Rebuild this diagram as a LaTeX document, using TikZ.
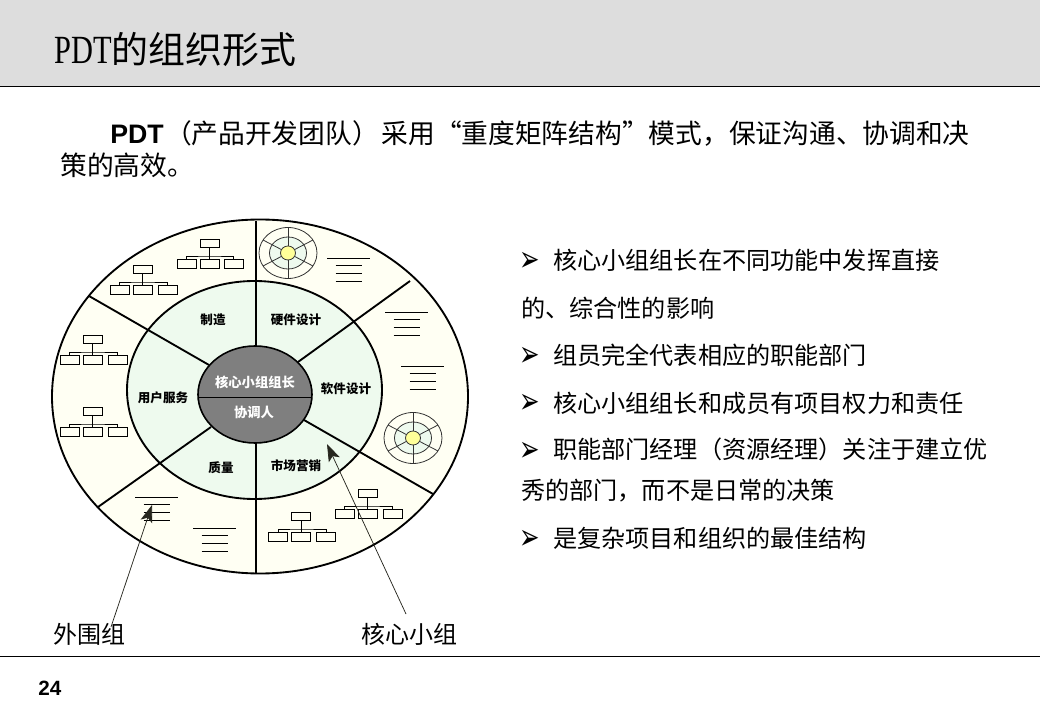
\documentclass[tikz,border=0pt]{standalone}
\usepackage{fontspec}
\setmainfont{Noto Sans CJK SC}
\newfontfamily\latinbold[BoldFont=Liberation Sans Bold]{Liberation Sans}
\newfontfamily\titlelatin[FakeStretch=0.76]{Liberation Serif}
\newfontfamily\dingfont[FakeStretch=0.68]{DejaVu Sans}
\usetikzlibrary{arrows.meta}
\definecolor{bandgray}{HTML}{DDDDDD}
\definecolor{outerfill}{HTML}{FFFFF3}
\definecolor{innerfill}{HTML}{EEFAEE}
\definecolor{corefill}{HTML}{7F7F7F}
\definecolor{yolk}{HTML}{FFFF99}
\definecolor{inkdark}{HTML}{26261E}
\newcommand{\chartpic}[4]{% name, centre x, top y, child-right offset
  \node[orgbox] (#1t) at (#2,#3+4.5) {};
  \node[orgbox] (#1a) at (#2-23,#3+25) {};
  \node[orgbox] (#1b) at (#2,#3+25) {};
  \node[orgbox] (#1c) at (#2+#4,#3+25) {};
  \coordinate (#1m) at (#2,#3+17);
  \draw[orgline] (#1t.south) -- (#1b.north);
  \draw[orgline] (#1a.north) |- (#1m) -| (#1c.north);
}
\newcommand{\rulepic}[3]{% left x of wide rule, y, name
  \coordinate (#3w0) at (#1,#2); \coordinate (#3w1) at (#1+43,#2);
  \draw[rulestroke] (#3w0) -- (#3w1);
  \foreach \k in {7,15,23}{
    \draw[rulestroke] (#1+8.5,#2+\k) -- (#1+34.5,#2+\k);
  }
}
\newcommand{\targetpic}[3]{% name, cx, cy
  \coordinate (#1) at (#2,#3);
  \draw[targetline,fill=outerfill] (#1) ellipse [x radius=29,y radius=25.5];
  \draw[targetline,fill=innerfill] (#1) ellipse [x radius=18.5,y radius=16];
  \draw[targetline] (#2,#3-25.5) -- (#2,#3+25.5);
  \draw[targetline] (#2-25,#3-13) -- (#2+25,#3+13);
  \draw[targetline] (#2-25,#3+13) -- (#2+25,#3-13);
  \draw[targetline,fill=yolk] (#1) ellipse [x radius=7.5,y radius=7];
}
\tikzset{
  orgbox/.style={draw=black,fill=outerfill,line width=0.7pt,minimum width=14.2pt,minimum height=6.6pt,inner sep=0pt},
  orgline/.style={draw=black,line width=0.7pt},
  rulestroke/.style={draw=black,line width=0.7pt},
  targetline/.style={draw=black!80,line width=0.6pt},
  spoke/.style={draw=black,line width=1.4pt},
  ring/.style={draw=black,line width=1.4pt},
  seglabel/.style={font=\fontsize{9.4pt}{10pt}\selectfont\bfseries,inner sep=0pt,text=black},
  corelabel/.style={font=\fontsize{10pt}{11pt}\selectfont\bfseries,inner sep=0pt,text=white},
  lead/.style={draw=inkdark,line width=0.55pt,-{Stealth[length=13pt,width=9pt,inset=3pt]}},
  bodytext/.style={anchor=base west,inner sep=0pt,font=\fontsize{20.05pt}{24pt}\selectfont},
  sidetext/.style={anchor=base west,inner sep=0pt,font=\fontsize{18.1pt}{22pt}\selectfont},
  tag/.style={anchor=base west,inner sep=0pt,font=\fontsize{18pt}{22pt}\selectfont},
  bulletmark/.style={anchor=base west,inner sep=0pt,font=\dingfont\fontsize{27pt}{30pt}\selectfont},
}
\begin{document}
\begin{tikzpicture}[x=0.75pt,y=-0.75pt]
\useasboundingbox (0,0) rectangle (1040,720);
\fill[white] (0,0) rectangle (1040,720);
\fill[bandgray] (0,0) rectangle (1040,86);
\coordinate (hl) at (0,86.5); \coordinate (hr) at (1040,86.5);
\draw[black,line width=0.75pt] (hl) -- (hr);
\coordinate (fl) at (0,656); \coordinate (fr) at (1040,656);
\draw[black,line width=0.75pt] (fl) -- (fr);
\node[anchor=base west,inner sep=0pt,font=\fontsize{27.7pt}{30pt}\selectfont] (title) at (54,64) {{\titlelatin\fontsize{30pt}{30pt}\selectfont PDT}的组织形式};
\node[bodytext] (body1) at (110,144) {{\latinbold\bfseries PDT}\hspace{1pt}（产品开发团队）\hspace{2pt}采用“重度矩阵结构”模式，保证沟通、协调和决};
\node[bodytext] (body2) at (60,176) {策的高效。};
% wheel
\draw[ring,fill=outerfill] (260,396.5) ellipse [x radius=208,y radius=177];
\draw[ring,fill=innerfill] (254.5,390) ellipse [x radius=127.5,y radius=109];
\coordinate (s1a) at (256,346); \coordinate (s1b) at (256,221);
\coordinate (s2a) at (256,443); \coordinate (s2b) at (256,573);
\coordinate (s3a) at (298,362); \coordinate (s3b) at (410,281);
\coordinate (s4a) at (209,365); \coordinate (s4b) at (89,296);
\coordinate (s5a) at (211,427); \coordinate (s5b) at (98,507);
\coordinate (s6a) at (304,420); \coordinate (s6b) at (433,494);
\foreach \n in {1,...,6}{\draw[spoke] (s\n a) -- (s\n b);}
\draw[draw=black,line width=1.2pt,fill=corefill] (255,394.5) ellipse [x radius=57,y radius=48.5];
\coordinate (cl) at (198,397); \coordinate (cr) at (312,397);
\draw[black,line width=0.7pt] (cl) -- (cr);
\node[corelabel] (c1) at (255,382) {核心小组组长};
\node[corelabel] (c2) at (254,412) {协调人};
\node[seglabel] (l1) at (213,320) {制造};
\node[seglabel] (l2) at (296,320) {硬件设计};
\node[seglabel] (l3) at (346,389) {软件设计};
\node[seglabel] (l4) at (163,398) {用户服务};
\node[seglabel] (l5) at (221,468) {质量};
\node[seglabel] (l6) at (296,466) {市场营销};
\chartpic{oa}{209.5}{239}{24}
\chartpic{ob}{142.5}{265}{25}
\chartpic{oc}{92.5}{335}{25}
\chartpic{od}{92.5}{407}{25}
\chartpic{oe}{367.5}{489}{25}
\chartpic{of}{301}{512}{25}
\rulepic{327}{258}{ra}
\rulepic{385}{312}{rb}
\rulepic{401}{366}{rc}
\rulepic{135}{497}{rd}
\rulepic{193}{528}{re}
\targetpic{ta}{288}{253}
\targetpic{tb}{413}{438}
% leaders
\coordinate (ltip1) at (152,505);
\coordinate (ltip2) at (327,444);
\node[tag] (outer) at (53,643) {外围组};
\node[tag] (core) at (361,643) {核心小组};
\coordinate (lfrom1) at (111,627);
\coordinate (lfrom2) at (406,614);
\draw[lead] (lfrom1) -- (ltip1);
\draw[lead] (lfrom2) -- (ltip2);
% bullets
\foreach \y/\nm in {272/b1,367/b2,414/b3,462/b4,549/b5}{
  \node[bulletmark] (\nm) at (519.5,\y) {➢};
}
\node[sidetext] (t1) at (553,270) {核心小组组长在不同功能中发挥直接};
\node[sidetext] (t1b) at (521,318) {的、综合性的影响};
\node[sidetext] (t2) at (553,365) {组员完全代表相应的职能部门};
\node[sidetext] (t3) at (553,413) {核心小组组长和成员有项目权力和责任};
\node[sidetext] (t4) at (553,459) {职能部门经理（资源经理）关注于建立优};
\node[sidetext] (t4b) at (521,499) {秀的部门，而不是日常的决策};
\node[sidetext] (t5) at (553,547) {是复杂项目和组织的最佳结构};
\node[anchor=base west,inner sep=0pt,font=\latinbold\bfseries\fontsize{15.5pt}{17pt}\selectfont] (pg) at (38,695) {24};
\end{tikzpicture}
\end{document}
